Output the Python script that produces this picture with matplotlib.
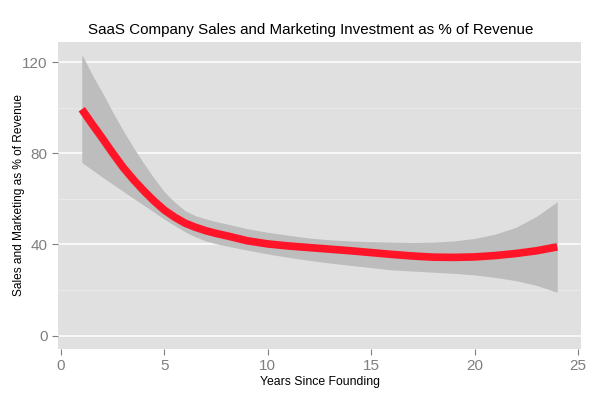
import numpy as np
import matplotlib
matplotlib.use('Agg')
import matplotlib.pyplot as plt

# loess fit (half-year steps where the curve bends most)
years = [1, 1.5, 2, 2.5, 3, 3.5, 4, 4.5, 5, 5.5, 6, 6.5, 7, 7.5, 8,
         9, 10, 11, 12, 13, 14, 15, 16, 17, 18, 19, 20, 21, 22, 23, 24]
fit = [99.3, 92.8, 86.5, 80.0, 73.8, 68.4, 63.5, 59.0, 55.0, 51.9, 49.3, 47.5, 46.0, 44.8, 43.8,
       41.6, 40.2, 39.3, 38.6, 37.9, 37.2, 36.4, 35.6, 34.9, 34.4, 34.3, 34.5, 35.1, 36.0, 37.2, 38.9]
upper = [123.4, 114.5, 106.5, 98.0, 90.0, 82.5, 75.5, 69.0, 63.0, 58.5, 54.8, 52.6, 51.2, 50.0, 49.0,
         46.9, 45.3, 44.0, 42.8, 42.0, 41.5, 41.2, 41.0, 40.8, 41.0, 41.5, 42.6, 44.5, 47.5, 52.3, 58.7]
lower = [76.0, 72.7, 69.5, 66.4, 63.3, 60.2, 57.2, 54.1, 51.0, 48.2, 45.5, 43.3, 41.5, 40.3, 39.3,
         37.5, 35.8, 34.3, 33.0, 31.8, 30.8, 29.8, 28.8, 28.3, 27.8, 27.3, 26.6, 25.5, 24.1, 22.0, 19.0]

xticks = [0, 5, 10, 15, 20, 25]
yticks = [0, 40, 80, 120]
yminor = [20, 60, 100]

plt.rcParams['font.family'] = ['Liberation Sans', 'DejaVu Sans']

fig = plt.figure(figsize=(6, 3.95), dpi=100)
ax = fig.add_axes([58/600, 1-349/395, 523/600, 307/395])
ax.set_facecolor('#E0E0E0')

for y in yminor:
    ax.axhline(y, color='#EBEBEB', lw=0.6, zorder=0)
for y in yticks:
    ax.axhline(y, color='white', lw=1.1, zorder=0)

ax.fill_between(years, lower, upper, color='#BDBDBD', lw=0, zorder=1)
ax.plot(years, fit, color='#FF1428', lw=5.5, solid_capstyle='butt', zorder=2)

ax.set_xlim(-0.15, 25.15)
ax.set_ylim(-5.9, 128.8)
ax.set_xticks(xticks)
ax.set_yticks(yticks)
ax.tick_params(colors='#7F7F7F', labelsize=11, length=4, width=0.8)
for s in ax.spines.values():
    s.set_visible(False)

ax.set_xlabel('Years Since Founding', fontsize=8.8, color='black', labelpad=2)
ax.set_ylabel('Sales and Marketing as % of Revenue', fontsize=8.6, color='black')
ax.yaxis.set_label_coords(-0.063, 0.5)
fig.text(311/600, 1-30/395, 'SaaS Company Sales and Marketing Investment as % of Revenue',
         ha='center', va='center', fontsize=10.9)

fig.savefig('out.png', dpi=100)
